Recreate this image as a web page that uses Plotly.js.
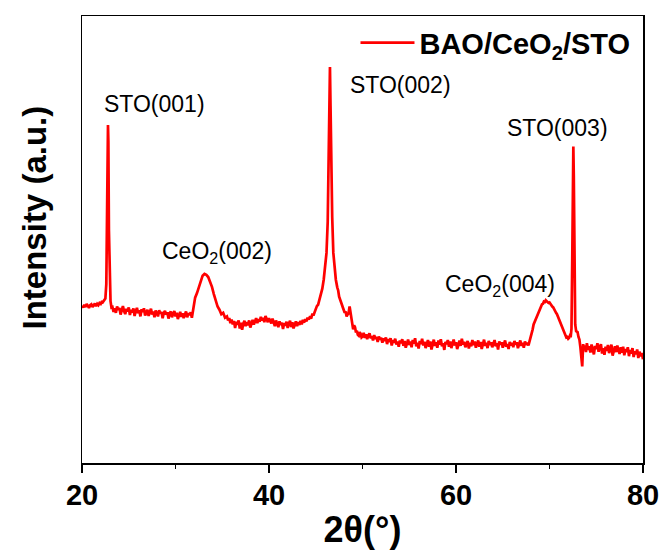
<!DOCTYPE html>
<html>
<head>
<meta charset="utf-8">
<script src="https://cdn.plot.ly/plotly-3.0.1.min.js"></script>
<style>html,body{margin:0;padding:0;background:#fff}#chart{width:665px;height:558px}</style>
</head>
<body>
<div id="chart"></div>
<script>
const seriesName = "BAO/CeO<sub>2</sub>/STO";

// [2θ, intensity (a.u.)], segment by segment
const segSTO001 = [
[20.0,35.2],[20.125,34.8],[20.25,35.4],[20.375,34.9],[20.5,35.6],[20.625,35.0],[20.75,34.7],[20.875,35.3],
[21.0,35.5],[21.125,34.9],[21.25,35.2],[21.375,35.7],[21.5,35.1],[21.625,35.6],[21.75,35.3],[21.875,35.8],
[22.0,35.6],[22.1,36.0],[22.2,35.9],[22.3,36.3],[22.4,36.5],[22.5,36.8],[22.6,40.0],[22.68,55.0],[22.75,73.0],
[22.78,75.6],[22.82,72.0],[22.88,52.0],[22.95,40.0],[23.05,36.2],[23.15,34.8]
];
const segBase1 = [
[23.25,34.9],[23.375,33.8],[23.5,34.6],[23.625,33.6],[23.75,35.0],[23.875,34.3],[24.0,34.7],[24.125,33.2],
[24.25,34.2],[24.375,35.1],[24.5,34.0],[24.625,33.3],[24.75,34.5],[24.875,33.9],[25.0,34.8],[25.125,33.1],
[25.25,34.3],[25.375,33.7],[25.5,34.6],[25.625,32.9],[25.75,34.0],[25.875,34.7],[26.0,33.5],[26.125,34.2],
[26.25,32.8],[26.375,34.4],[26.5,33.8],[26.625,34.6],[26.75,33.0],[26.875,33.9],[27.0,34.3],[27.125,32.9],
[27.25,33.8],[27.375,34.5],[27.5,33.2],[27.625,33.9],[27.75,32.6],[27.875,34.1],[28.0,33.5],[28.125,32.8],
[28.25,34.2],[28.375,33.4],[28.5,33.8],[28.625,32.4],[28.75,33.6],[28.875,34.0],[29.0,33.2],[29.125,33.7],
[29.25,32.3],[29.375,33.5],[29.5,33.9],[29.625,32.6],[29.75,33.4],[29.875,34.0],[30.0,32.8],[30.125,33.6],
[30.25,32.2],[30.375,33.3],[30.5,33.8],[30.625,32.7],[30.75,33.5],[30.875,32.4],[31.0,33.4],[31.125,33.9],
[31.25,32.6],[31.375,33.5],[31.5,33.1],[31.625,33.7],[31.75,32.5]
];
const segCeO2_002 = [
[31.85,33.8],[31.95,35.8],[32.1,37.0],[32.3,38.0],[32.5,39.4],[32.7,40.9],[32.9,41.9],[33.1,42.3],[33.3,42.1],
[33.5,41.6],[33.7,40.6],[33.9,39.4],[34.1,37.8],[34.3,36.4],[34.5,35.0],[34.7,34.3],[34.9,33.3],[35.1,33.6],[35.3,32.5]
];
const segBase2 = [
[35.5,32.8],[35.625,31.9],[35.75,32.4],[35.875,31.3],[36.0,32.1],[36.125,31.0],[36.25,31.8],[36.375,30.2],
[36.5,31.6],[36.625,30.9],[36.75,31.9],[36.875,30.1],[37.0,31.4],[37.125,29.8],[37.25,31.2],[37.375,31.8],
[37.5,30.6],[37.625,31.5],[37.75,30.8],[37.875,31.9],[38.0,30.3],[38.125,31.3],[38.25,32.0],[38.375,31.0],
[38.5,31.7],[38.625,32.4],[38.75,31.3],[38.875,32.2],[39.0,31.6],[39.125,32.7],[39.25,31.9],[39.375,32.5],
[39.5,31.5],[39.625,32.9],[39.75,32.2],[39.875,31.5],[40.0,32.4],[40.125,31.6],[40.25,31.2],[40.375,32.3],
[40.5,31.5],[40.625,30.6],[40.75,31.9],[40.875,31.1],[41.0,30.4],[41.125,31.7],[41.25,30.9],[41.375,31.4],
[41.5,30.0],[41.625,31.3],[41.75,30.7],[41.875,31.6],[42.0,30.2],[42.125,31.2],[42.25,31.8],[42.375,30.4],
[42.5,31.5],[42.625,30.1],[42.75,31.1],[42.875,31.7],[43.0,30.6],[43.125,31.5],[43.25,30.9],[43.375,31.8],
[43.5,31.0],[43.625,32.0],[43.75,31.4],[43.875,32.2],[44.0,31.7],[44.125,32.5],[44.25,32.1]
];
const segSTO002 = [
[44.4,32.8],[44.5,32.3],[44.65,33.4],[44.75,33.0],[44.9,34.0],[45.0,34.2],[45.12,35.1],[45.25,35.4],[45.38,36.4],
[45.5,37.0],[45.6,38.2],[45.7,39.0],[45.85,41.0],[46.0,43.5],[46.15,47.0],[46.28,54.0],[46.38,65.0],[46.46,80.0],
[46.52,88.6],[46.58,80.0],[46.66,66.0],[46.76,55.0],[46.88,47.0],[47.0,43.5],[47.15,41.0],[47.3,39.3],[47.4,38.6],
[47.5,37.2],[47.6,36.5],[47.7,35.6],[47.8,35.4],[47.9,34.8],[48.0,34.1],[48.1,33.6],[48.2,33.9],[48.3,32.8],
[48.4,33.2],[48.5,33.4],[48.62,35.0],[48.72,33.5],[48.85,31.2],[49.0,29.9],[49.1,30.8],[49.2,30.4],[49.3,29.2],
[49.4,29.6],[49.5,28.7],[49.6,28.5],[49.7,29.3],[49.8,28.9],[49.9,28.1]
];
const segBase3 = [
[50.0,28.3],[50.125,29.1],[50.25,28.0],[50.375,28.8],[50.5,27.7],[50.625,28.5],[50.75,29.0],[50.875,27.9],
[51.0,28.4],[51.125,27.4],[51.25,28.6],[51.375,27.8],[51.5,28.2],[51.625,27.1],[51.75,28.3],[51.875,27.6],
[52.0,28.0],[52.125,26.9],[52.25,27.9],[52.375,27.3],[52.5,28.1],[52.625,26.6],[52.75,27.7],[52.875,27.1],
[53.0,27.9],[53.125,26.3],[53.25,27.5],[53.375,26.9],[53.5,27.8],[53.625,26.5],[53.75,27.2],[53.875,26.0],
[54.0,27.4],[54.125,26.8],[54.25,27.7],[54.375,26.2],[54.5,27.3],[54.625,25.8],[54.75,27.0],[54.875,27.6],
[55.0,26.4],[55.125,27.2],[55.25,25.9],[55.375,27.5],[55.5,26.7],[55.625,27.9],[55.75,26.1],[55.875,26.9],
[56.0,25.6],[56.125,27.3],[56.25,26.6],[56.375,27.8],[56.5,26.3],[56.625,27.1],[56.75,25.7],[56.875,26.8],
[57.0,27.5],[57.125,26.0],[57.25,27.2],[57.375,25.4],[57.5,26.9],[57.625,27.6],[57.75,26.2],[57.875,27.0],
[58.0,25.8],[58.125,27.4],[58.25,26.5],[58.375,27.7],[58.5,26.1],[58.625,26.8],[58.75,25.3],[58.875,27.1],
[59.0,26.6],[59.125,27.5],[59.25,26.0],[59.375,27.2],[59.5,25.7],[59.625,26.9],[59.75,27.6],[59.875,26.3],
[60.0,27.0],[60.125,25.5],[60.25,26.8],[60.375,27.4],[60.5,26.2],[60.625,27.8],[60.75,26.5],[60.875,27.1],
[61.0,25.9],[61.125,26.7],[61.25,27.3],[61.375,25.6],[61.5,26.9],[61.625,26.1],[61.75,27.5],[61.875,26.4],
[62.0,27.2],[62.125,25.8],[62.25,26.6],[62.375,27.4],[62.5,26.0],[62.625,27.1],[62.75,25.5],[62.875,26.8],
[63.0,27.6],[63.125,26.2],[63.25,26.9],[63.375,25.7],[63.5,27.3],[63.625,26.4],[63.75,27.0],[63.875,25.9],
[64.0,26.7],[64.125,27.5],[64.25,26.1],[64.375,26.8],[64.5,25.4],[64.625,27.2],[64.75,26.5],[64.875,27.0],
[65.0,25.8],[65.125,26.9],[65.25,27.4],[65.375,26.0],[65.5,26.6],[65.625,25.5],[65.75,27.1],[65.875,26.3],
[66.0,26.9],[66.125,25.9],[66.25,27.3],[66.375,26.5],[66.5,27.0],[66.625,25.7],[66.75,26.8],[66.875,27.4],
[67.0,26.2],[67.125,26.9],[67.25,25.8],[67.375,27.2],[67.5,26.4],[67.625,26.9],[67.75,26.3]
];
const segCeO2_004 = [
[67.9,27.4],[68.0,28.0],[68.1,29.2],[68.2,29.9],[68.3,31.0],[68.4,31.5],[68.5,32.4],[68.6,32.7],[68.7,33.3],
[68.8,33.9],[68.9,34.2],[69.0,34.8],[69.1,35.0],[69.2,35.5],[69.3,35.6],[69.4,36.1],[69.5,36.0],[69.6,36.4],
[69.7,36.2],[69.8,36.0],[69.9,35.8],[70.0,35.9],[70.1,35.5],[70.2,35.3],[70.3,35.0],[70.4,34.8],[70.5,34.3],
[70.6,34.1],[70.7,33.6],[70.8,33.3],[70.9,32.8],[71.0,32.5],[71.1,31.9],[71.2,31.2],[71.3,30.9],[71.4,30.1],
[71.5,29.9],[71.6,29.2],[71.7,28.9],[71.8,28.1],[71.9,28.2],[72.0,27.8],[72.1,28.0],[72.2,28.6],[72.28,28.5]
];
const segSTO003 = [
[72.35,30.0],[72.43,45.0],[72.5,65.0],[72.55,70.8],[72.6,64.0],[72.67,44.0],[72.75,31.0],[72.85,29.5]
];
const segBase4 = [
[73.0,29.3],[73.1,28.2],[73.2,27.6],[73.3,26.0],[73.4,24.0],[73.5,21.6],[73.6,26.6],[73.7,25.2],[73.8,26.3],
[73.9,24.8],[74.0,26.8],[74.125,25.3],[74.25,26.1],[74.375,24.7],[74.5,26.5],[74.625,25.6],[74.75,24.3],
[74.875,26.2],[75.0,25.5],[75.125,26.8],[75.25,24.9],[75.375,25.9],[75.5,26.6],[75.625,24.5],[75.75,25.7],
[75.875,24.2],[76.0,26.0],[76.125,25.1],[76.25,26.4],[76.375,24.6],[76.5,25.8],[76.625,26.5],[76.75,24.0],
[76.875,25.4],[77.0,26.1],[77.125,24.8],[77.25,26.3],[77.375,25.2],[77.5,24.4],[77.625,25.9],[77.75,24.7],
[77.875,26.0],[78.0,24.1],[78.125,25.5],[78.25,24.8],[78.375,25.9],[78.5,23.9],[78.625,25.3],[78.75,24.5],
[78.875,25.7],[79.0,23.7],[79.125,25.0],[79.25,24.3],[79.375,25.4],[79.5,23.5],[79.625,24.9],[79.75,23.9],
[79.875,24.6],[80.0,23.2]
];

const allPoints = [].concat(segSTO001, segBase1, segCeO2_002, segBase2, segSTO002, segBase3, segCeO2_004, segSTO003, segBase4);
const twoTheta = allPoints.map(p => p[0]);
const intensity = allPoints.map(p => p[1]);

const xTickValues = [20, 40, 60, 80];
const xMinorTickValues = [30, 50, 70];
const peakLabels = ["STO(001)", "CeO<sub>2</sub>(002)", "STO(002)", "CeO<sub>2</sub>(004)", "STO(003)"];
const peakLabelX = [27.75, 34.4, 54.1, 64.7, 70.9];
const peakLabelY = [80.3, 47.2, 84.6, 39.6, 74.9];

const FONT = "Liberation Sans, Arial, sans-serif";

const trace = {
  x: twoTheta,
  y: intensity,
  type: "scatter",
  mode: "lines",
  name: seriesName,
  line: {color: "#ff0000", width: 2.7}
};

const annotations = peakLabels.map((t, i) => ({
  x: peakLabelX[i], y: peakLabelY[i], xref: "x", yref: "y",
  text: t, showarrow: false, xanchor: "center", yanchor: "middle",
  font: {family: FONT, size: 23, color: "#000"}
}));

annotations.push({
  xref: "paper", yref: "paper", x: -0.085, y: 0.55,
  text: "Intensity (a.u.)", textangle: -90, showarrow: false,
  xanchor: "center", yanchor: "middle",
  font: {family: FONT, size: 33, color: "#000", weight: "bold"}
});

const layout = {
  width: 665, height: 558,
  margin: {l: 82, r: 22, t: 16, b: 95},
  paper_bgcolor: "#fff", plot_bgcolor: "#fff",
  font: {family: FONT, color: "#000"},
  showlegend: true,
  legend: {
    x: 0.4875, y: 0.94, xanchor: "left", yanchor: "middle",
    bgcolor: "rgba(0,0,0,0)", itemwidth: 54,
    font: {family: FONT, size: 29, color: "#000", weight: "bold"}
  },
  xaxis: {
    range: [20, 80], tickvals: xTickValues, ticktext: xTickValues.map(String),
    ticks: "outside", ticklen: 8, tickwidth: 1.5, tickcolor: "#000",
    ticklabelstandoff: -2,
    minor: {tickvals: xMinorTickValues, ticks: "outside", ticklen: 4, tickwidth: 1.5, tickcolor: "#000"},
    showline: true, linecolor: "#000", linewidth: 1.5, mirror: true,
    showgrid: false, zeroline: false,
    tickfont: {family: FONT, size: 29, color: "#000", weight: "bold"},
    title: {text: "2θ(°)", font: {family: FONT, size: 36, color: "#000", weight: "bold"}, standoff: 6}
  },
  yaxis: {
    range: [0, 100], showticklabels: false, ticks: "",
    showline: true, linecolor: "#000", linewidth: 1.5, mirror: true,
    showgrid: false, zeroline: false
  },
  annotations: annotations
};

Plotly.newPlot("chart", [trace], layout, {displayModeBar: false, staticPlot: true});
</script>
</body>
</html>
